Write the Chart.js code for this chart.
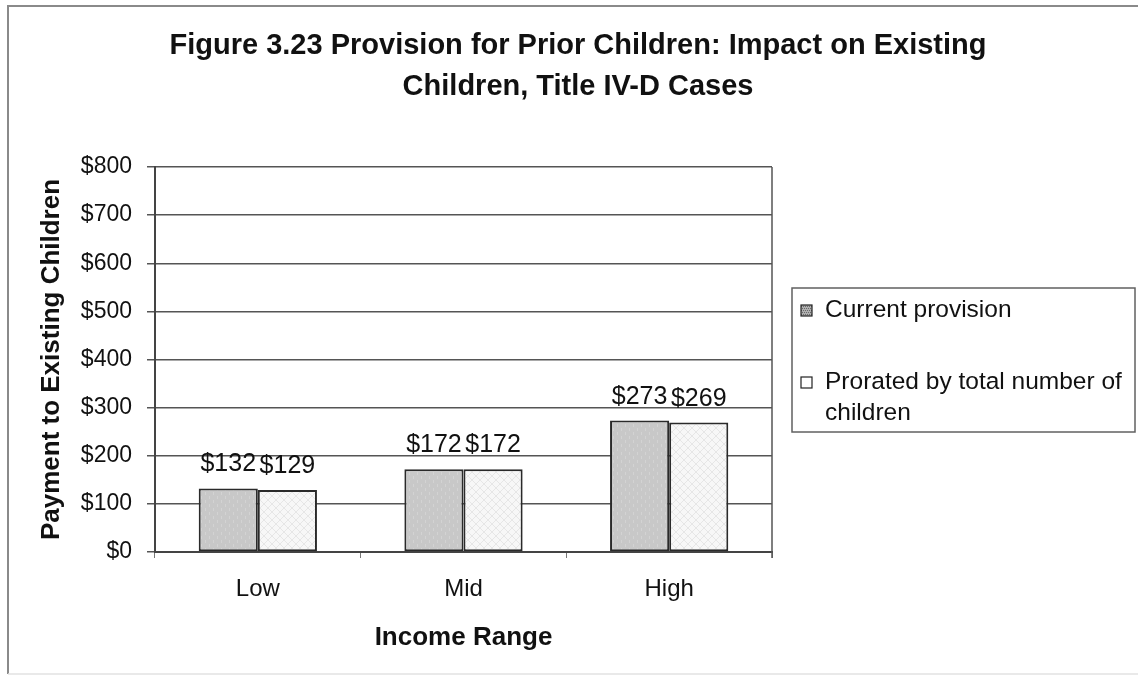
<!DOCTYPE html>
<html>
<head>
<meta charset="utf-8">
<script src="https://cdn.jsdelivr.net/npm/chart.js@4.4.1/dist/chart.umd.min.js"></script>
<style>
  html, body { margin: 0; padding: 0; background: #ffffff; }
  canvas { display: block; }
</style>
</head>
<body>
<canvas id="chart" width="1138" height="677"></canvas>
<script>
// ---- Data ----
const categories = ['Low', 'Mid', 'High'];
const currentProvision = [132, 172, 273];
const proratedByChildren = [129, 172, 269];
const seriesNames = ['Current provision', 'Prorated by total number of children'];
const titleLines = ['Figure 3.23 Provision for Prior Children: Impact on Existing', 'Children, Title IV-D Cases'];
const yAxisTitle = 'Payment to Existing Children';
const xAxisTitle = 'Income Range';
const yMin = 0, yMax = 800, yStep = 100;

const FONT = "'Liberation Sans', Arial, sans-serif";

const canvas = document.getElementById('chart');
const ctx0 = canvas.getContext('2d');

// Small repeating fills for the bars
function makePattern(base, ink, kind) {
  const t = document.createElement('canvas');
  t.width = 8; t.height = 8;
  const g = t.getContext('2d');
  g.fillStyle = base;
  g.fillRect(0, 0, 8, 8);
  g.fillStyle = ink;
  g.strokeStyle = ink;
  g.lineWidth = 1;
  if (kind === 'cross') {
    g.beginPath();
    g.moveTo(0, 0); g.lineTo(8, 8);
    g.moveTo(8, 0); g.lineTo(0, 8);
    g.stroke();
  } else if (kind === 'dash') {
    g.fillRect(1, 0, 1, 3);
    g.fillRect(5, 4, 1, 3);
  } else {
    for (let y = 0; y < 8; y += 2) {
      for (let x = (y / 2) % 2; x < 8; x += 2) g.fillRect(x, y, 1, 1);
    }
  }
  return ctx0.createPattern(t, 'repeat');
}

const fillCurrent = makePattern('#c8c8c8', '#d3d3d3', 'dash');
const fillProrated = makePattern('#f7f7f7', '#e6e6e6', 'cross');
const swatchCurrent = makePattern('#b0b0b0', '#6a6a6a', 'dots');
const swatchProrated = '#ffffff';

// Outer frame of the figure
const framePlugin = {
  id: 'frame',
  beforeDraw(chart) {
    const c = chart.ctx;
    c.save();
    c.strokeStyle = '#8a8a8a';
    c.lineWidth = 2;
    c.beginPath();
    c.moveTo(8, 674); c.lineTo(8, 6); c.lineTo(1138, 6);
    c.stroke();
    c.strokeStyle = '#e2e2e2';
    c.lineWidth = 1.5;
    c.beginPath();
    c.moveTo(8, 674); c.lineTo(1138, 674);
    c.stroke();
    c.restore();
  }
};

// Two-line figure title
const titlePlugin = {
  id: 'figTitle',
  afterDraw(chart) {
    const c = chart.ctx;
    c.save();
    c.fillStyle = '#111111';
    c.font = 'bold 29px ' + FONT;
    c.textAlign = 'center';
    c.textBaseline = 'middle';
    titleLines.forEach((line, i) => c.fillText(line, 578, 46 + i * 41));
    c.restore();
  }
};

// Right edge of the plot area
const plotBorderPlugin = {
  id: 'plotBorder',
  beforeDatasetsDraw(chart) {
    const a = chart.chartArea;
    const c = chart.ctx;
    c.save();
    c.strokeStyle = '#555555';
    c.lineWidth = 1.5;
    c.beginPath();
    c.moveTo(a.right, a.top);
    c.lineTo(a.right, a.bottom + 6);
    c.stroke();
    c.restore();
  }
};

// Value labels above each bar
const valueLabelPlugin = {
  id: 'valueLabels',
  afterDatasetsDraw(chart) {
    const c = chart.ctx;
    c.save();
    c.fillStyle = '#111111';
    c.font = '25px ' + FONT;
    c.textAlign = 'center';
    c.textBaseline = 'alphabetic';
    chart.data.datasets.forEach((ds, di) => {
      chart.getDatasetMeta(di).data.forEach((bar, i) => {
        c.fillText('$' + ds.data[i], bar.x, bar.y - 17);
      });
    });
    c.restore();
  }
};

// Boxed legend on the right, with wrapped labels
const boxLegendPlugin = {
  id: 'boxLegend',
  afterDraw(chart) {
    const c = chart.ctx;
    const box = { x: 792, y: 288, w: 343, h: 144 };
    c.save();
    c.strokeStyle = '#606060';
    c.lineWidth = 1.5;
    c.strokeRect(box.x, box.y, box.w, box.h);
    c.font = '24.5px ' + FONT;
    c.fillStyle = '#111111';
    c.textAlign = 'left';
    c.textBaseline = 'middle';
    const textX = 825, maxW = 310, lineH = 31;
    const rowY = [310, 382];
    chart.data.datasets.forEach((ds, i) => {
      // swatch
      c.fillStyle = i === 0 ? swatchCurrent : swatchProrated;
      c.fillRect(801, rowY[i] - 5, 11, 11);
      c.strokeStyle = '#222222';
      c.lineWidth = 1.2;
      c.strokeRect(801, rowY[i] - 5, 11, 11);
      // wrapped text
      c.fillStyle = '#111111';
      const words = ds.label.split(' ');
      const lines = [];
      let cur = '';
      words.forEach(w => {
        const test = cur ? cur + ' ' + w : w;
        if (c.measureText(test).width > maxW && cur) { lines.push(cur); cur = w; }
        else cur = test;
      });
      if (cur) lines.push(cur);
      lines.forEach((ln, k) => c.fillText(ln, textX, rowY[i] + k * lineH));
    });
    c.restore();
  }
};

new Chart(canvas, {
  type: 'bar',
  data: {
    labels: categories,
    datasets: [
      {
        label: seriesNames[0],
        data: currentProvision,
        backgroundColor: fillCurrent,
        borderColor: '#2a2a2a',
        borderWidth: 2,
        borderSkipped: false
      },
      {
        label: seriesNames[1],
        data: proratedByChildren,
        backgroundColor: fillProrated,
        borderColor: '#2a2a2a',
        borderWidth: 2,
        borderSkipped: false
      }
    ]
  },
  options: {
    responsive: false,
    animation: false,
    devicePixelRatio: 1,
    layout: { padding: { left: 0, right: 366, top: 167, bottom: 0 } },
    datasets: { bar: { categoryPercentage: 0.575, barPercentage: 1.0 } },
    plugins: {
      legend: { display: false },
      title: { display: false },
      tooltip: { enabled: false }
    },
    scales: {
      x: {
        afterFit(scale) { scale.height = 125; },
        grid: {
          display: true,
          drawOnChartArea: false,
          drawTicks: true,
          tickLength: 6,
          color: '#777777',
          offset: true
        },
        border: { display: true, color: '#444444', width: 2 },
        ticks: {
          color: '#111111',
          font: { family: FONT, size: 24 },
          padding: 17
        },
        title: {
          display: true,
          text: xAxisTitle,
          color: '#111111',
          font: { family: FONT, size: 26, weight: 'bold' },
          padding: { top: 0, bottom: 24 }
        }
      },
      y: {
        min: yMin,
        max: yMax,
        afterFit(scale) { scale.width = 155; },
        grid: {
          color: '#555555',
          lineWidth: 1.5,
          drawTicks: true,
          tickLength: 8
        },
        border: { display: true, color: '#444444', width: 2 },
        ticks: {
          stepSize: yStep,
          color: '#111111',
          font: { family: FONT, size: 23 },
          padding: 15,
          callback: v => '$' + v
        },
        title: {
          display: true,
          text: yAxisTitle,
          color: '#111111',
          font: { family: FONT, size: 26, weight: 'bold' },
          padding: { top: 36, bottom: 0 }
        }
      }
    }
  },
  plugins: [framePlugin, plotBorderPlugin, valueLabelPlugin, titlePlugin, boxLegendPlugin]
});
</script>
</body>
</html>
